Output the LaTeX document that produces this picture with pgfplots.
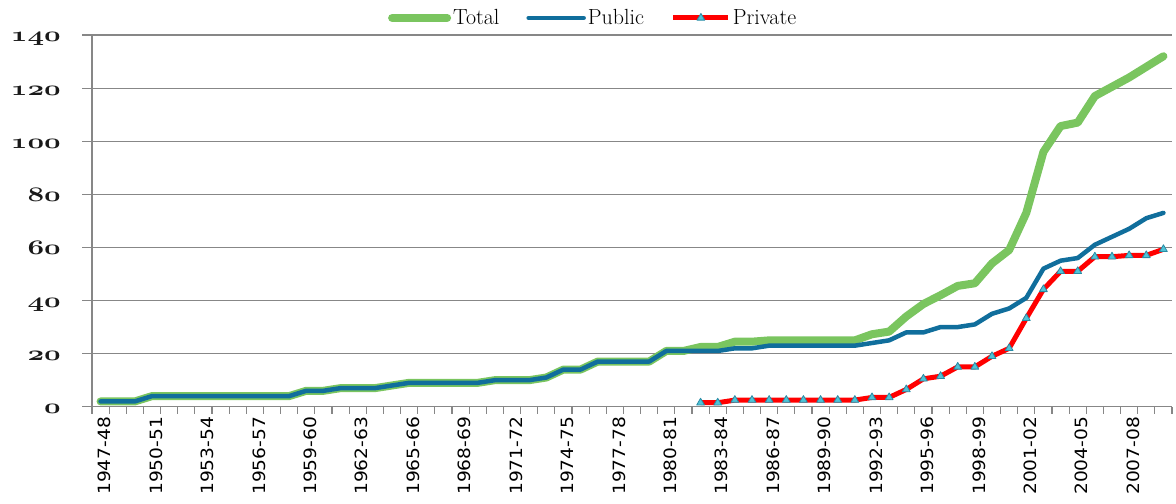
\documentclass[border=0pt]{standalone}
\usepackage{fontspec}
\usepackage{graphicx}
\usepackage{pgfplots}
\usepackage{pgfplotstable}
\pgfplotsset{compat=1.18}
\newfontfamily\xfont{DejaVu Sans}[FakeStretch=1.1]
\newcommand{\ynum}[1]{\scalebox{1.4}[1]{\fontsize{21}{25}\usefont{OML}{cmm}{b}{it}#1}}
\definecolor{totg}{RGB}{122,197,95}
\definecolor{pubb}{RGB}{16,110,156}
\definecolor{prir}{RGB}{255,0,0}
\definecolor{trif}{RGB}{80,195,215}
\definecolor{trid}{RGB}{40,140,165}
\definecolor{gridc}{RGB}{135,135,135}

\pgfplotstableread{
x total public
0 2 2
1 2 2
2 2 2
3 4 4
4 4 4
5 4 4
6 4 4
7 4 4
8 4 4
9 4 4
10 4 4
11 4 4
12 6 6
13 6 6
14 7 7
15 7 7
16 7 7
17 8 8
18 9 9
19 9 9
20 9 9
21 9 9
22 9 9
23 10 10
24 10 10
25 10 10
26 11 11
27 14 14
28 14 14
29 17 17
30 17 17
31 17 17
32 17 17
33 21 21
34 21 21
35 22.5 21
36 22.5 21
37 24.5 22
38 24.5 22
39 25 23
40 25 23
41 25 23
42 25 23
43 25 23
44 25 23
45 27.3 24
46 28.3 25
47 34 28
48 38.7 28
49 42 30
50 45.5 30
51 46.5 31
52 54 35
53 59 37
54 73 41
55 96 52
56 105.7 55
57 107 56
58 117 61
59 120.5 64
60 124 67
61 128 71
62 132 73
}\maintab

\pgfplotstableread{
x private
35 1.5
36 1.5
37 2.5
38 2.5
39 2.5
40 2.5
41 2.5
42 2.5
43 2.5
44 2.5
45 3.5
46 3.5
47 6.5
48 10.5
49 11.5
50 15
51 15
52 19
53 22
54 33.3
55 44.2
56 51
57 51
58 56.5
59 56.5
60 57
61 57
62 59.3
}\privtab

\begin{document}
\begin{tikzpicture}
\begin{axis}[
  scale only axis,
  width=1080bp, height=371.7bp,
  xmin=-0.5, xmax=62.5, ymin=0, ymax=140,
  axis x line*=bottom, axis y line*=left,
  axis line style={gridc, line width=1.2bp, -},
  ytick={0,20,...,140},
  yticklabels={\ynum{0},\ynum{20},\ynum{40},\ynum{60},\ynum{80},\ynum{100},\ynum{120},\ynum{140}},
  ymajorgrids,
  grid style={gridc, line width=1.2bp},
  xtick={0,3,...,60},
  xticklabels={1947-48,1950-51,1953-54,1956-57,1959-60,1962-63,1965-66,1968-69,1971-72,1974-75,1977-78,1980-81,1983-84,1986-87,1989-90,1992-93,1995-96,1998-99,2001-02,2004-05,2007-08},
  minor xtick={-0.5,0.5,...,62.5},
  major tick length=10bp, minor tick length=7bp,
  tick align=outside,
  tick style={gridc, line width=1.2bp},
  major x tick style={draw=none},
  xticklabel style={font=\xfont\fontsize{17}{20}\selectfont, rotate=90, anchor=east, inner sep=0pt, yshift=-4bp, text=black},
  yticklabel style={anchor=base east, inner sep=0pt, yshift=-7bp, xshift=-21bp, text=black!90},
  legend style={at={(0.464,1.046)}, anchor=center, draw=none, fill=none,
    legend columns=3, inner sep=0pt,
    font=\fontsize{22}{26}\selectfont,
    /tikz/every even column/.append style={column sep=25bp}},
  legend image code/.code={\draw[mark repeat=2,mark phase=2,#1] plot coordinates {(0bp,0bp) (27.5bp,0bp) (55bp,0bp)};},
  clip=false,
]
\addplot[totg, line width=8bp, line join=round, line cap=round, no marks] table[x=x, y=total] {\maintab};
\addlegendentry{Total}
\addplot[pubb, line width=4.5bp, line join=round, line cap=round, no marks] table[x=x, y=public] {\maintab};
\addlegendentry{Public}
\addplot[prir, line width=5bp, line join=round, mark=triangle*, mark size=4.5bp,
  mark options={fill=trif, draw=trid, line width=0.8bp, solid}] table[x=x, y=private] {\privtab};
\addlegendentry{Private}
\end{axis}
\pgfresetboundingbox
\useasboundingbox ([xshift=-92bp,yshift=-96.3bp]current axis.south west) rectangle ([xshift=4bp,yshift=35bp]current axis.north east);
\end{tikzpicture}
\end{document}
